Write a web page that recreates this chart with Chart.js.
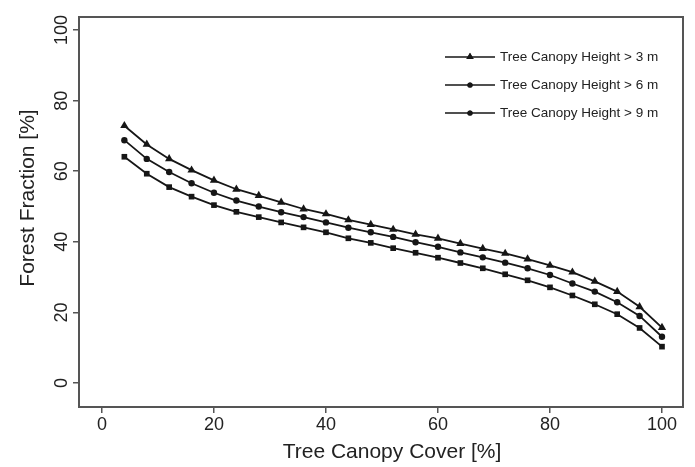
<!DOCTYPE html>
<html lang="en">
<head>
    <meta charset="UTF-8">
    <title>Forest Fraction vs Tree Canopy Cover</title>
    <script src="https://cdn.jsdelivr.net/npm/chart.js@4.4.0/dist/chart.umd.min.js"></script>
    <style>
        body { margin: 0; background: #fff; }
        .chart-box { width: 695px; height: 467px; position: relative; }
    </style>
</head>
<body>
    <div class="chart-box">
        <canvas id="forest-chart"></canvas>
    </div>
    <script>
        // values
        const canopyCover = [4, 8, 12, 16, 20, 24, 28, 32, 36, 40, 44, 48, 52, 56, 60, 64, 68, 72, 76, 80, 84, 88, 92, 96, 100];
        const height3m = [72.9, 67.6, 63.5, 60.3, 57.4, 54.9, 53.1, 51.2, 49.3, 47.9, 46.2, 44.9, 43.5, 42.1, 41.0, 39.5, 38.1, 36.7, 35.1, 33.3, 31.4, 28.8, 25.9, 21.6, 15.7];
        const height6m = [68.8, 63.5, 59.8, 56.6, 53.9, 51.7, 50.0, 48.4, 47.0, 45.5, 44.0, 42.7, 41.4, 39.9, 38.6, 37.0, 35.6, 34.1, 32.5, 30.6, 28.2, 25.9, 22.9, 19.0, 13.1];
        const height9m = [64.1, 59.3, 55.5, 52.8, 50.4, 48.5, 47.0, 45.5, 44.1, 42.7, 41.0, 39.7, 38.2, 36.9, 35.5, 34.0, 32.5, 30.8, 29.1, 27.1, 24.8, 22.3, 19.5, 15.6, 10.3];
        const seriesLabels = ['Tree Canopy Height > 3 m', 'Tree Canopy Height > 6 m', 'Tree Canopy Height > 9 m'];
        const xTicks = [0, 20, 40, 60, 80, 100];
        const yTicks = [0, 20, 40, 60, 80, 100];

        const FONT = '"Liberation Sans", Arial, sans-serif';
        const INK = '#161616';
        const FRAME = '#555555';

        Chart.defaults.font.family = FONT;
        Chart.defaults.color = '#222';

        function toPoints(values) {
            return canopyCover.map((x, i) => ({ x: x, y: values[i] }));
        }

        function makeSeries(label, values, style, radius) {
            return {
                label: label,
                data: toPoints(values),
                borderColor: INK,
                backgroundColor: INK,
                borderWidth: 1.8,
                pointStyle: style,
                pointRadius: radius,
                pointBorderWidth: 0,
                pointBackgroundColor: INK,
                tension: 0
            };
        }

        // box, y tick labels, axis titles and the legend
        const framePlugin = {
            id: 'frame',
            afterDraw(chart) {
                const { ctx, chartArea } = chart;
                const yScale = chart.scales.y;
                ctx.save();
                ctx.strokeStyle = FRAME;
                ctx.lineWidth = 2;
                ctx.strokeRect(chartArea.left, chartArea.top, chartArea.right - chartArea.left, chartArea.bottom - chartArea.top);

                // rotated y tick labels
                ctx.fillStyle = '#222';
                ctx.font = '18px ' + FONT;
                ctx.textAlign = 'center';
                ctx.textBaseline = 'middle';
                yTicks.forEach(v => {
                    ctx.save();
                    ctx.translate(62, yScale.getPixelForValue(v));
                    ctx.rotate(-Math.PI / 2);
                    ctx.fillText(String(v), 0, 0);
                    ctx.restore();
                });

                // axis titles
                ctx.font = '21px ' + FONT;
                ctx.fillText('Tree Canopy Cover [%]', 392, 452);
                ctx.save();
                ctx.translate(28, 198);
                ctx.rotate(-Math.PI / 2);
                ctx.fillText('Forest Fraction [%]', 0, 0);
                ctx.restore();

                // legend
                ctx.font = '13.5px ' + FONT;
                ctx.textAlign = 'left';
                chart.data.datasets.forEach((ds, i) => {
                    const y = 57 + i * 28;
                    ctx.strokeStyle = INK;
                    ctx.lineWidth = 1.6;
                    ctx.beginPath();
                    ctx.moveTo(445, y);
                    ctx.lineTo(495, y);
                    ctx.stroke();
                    ctx.fillStyle = INK;
                    Chart.helpers.drawPoint(ctx, { pointStyle: i === 0 ? 'triangle' : 'circle', radius: i === 0 ? 4.2 : 2.6, borderWidth: 0 }, 470, y);
                    ctx.fill();
                    ctx.fillStyle = '#222';
                    ctx.fillText(ds.label, 500, y);
                });
                ctx.restore();
            }
        };

        const ctx = document.getElementById('forest-chart').getContext('2d');
        new Chart(ctx, {
            type: 'line',
            data: {
                datasets: [
                    makeSeries(seriesLabels[0], height3m, 'triangle', 4.8),
                    makeSeries(seriesLabels[1], height6m, 'circle', 3.2),
                    makeSeries(seriesLabels[2], height9m, 'rect', 4)
                ]
            },
            options: {
                responsive: true,
                maintainAspectRatio: false,
                animation: false,
                layout: { padding: { top: 17, right: 12, left: 0, bottom: 0 } },
                plugins: {
                    legend: { display: false },
                    tooltip: { enabled: false }
                },
                scales: {
                    x: {
                        type: 'linear',
                        min: -4.1,
                        max: 103.75,
                        afterBuildTicks: scale => { scale.ticks = xTicks.map(v => ({ value: v })); },
                        afterFit: scale => { scale.height = 60; },
                        border: { display: false },
                        grid: { drawOnChartArea: false, drawTicks: true, tickLength: 6, color: FRAME, lineWidth: 1.5 },
                        ticks: { font: { size: 18 }, color: '#222', padding: 1, maxRotation: 0 }
                    },
                    y: {
                        type: 'linear',
                        min: -6.8,
                        max: 103.7,
                        afterBuildTicks: scale => { scale.ticks = yTicks.map(v => ({ value: v })); },
                        afterFit: scale => { scale.width = 79; },
                        border: { display: false },
                        grid: { drawOnChartArea: false, drawTicks: true, tickLength: 6, color: FRAME, lineWidth: 1.5 },
                        ticks: { display: false }
                    }
                }
            },
            plugins: [framePlugin]
        });
    </script>
</body>
</html>
